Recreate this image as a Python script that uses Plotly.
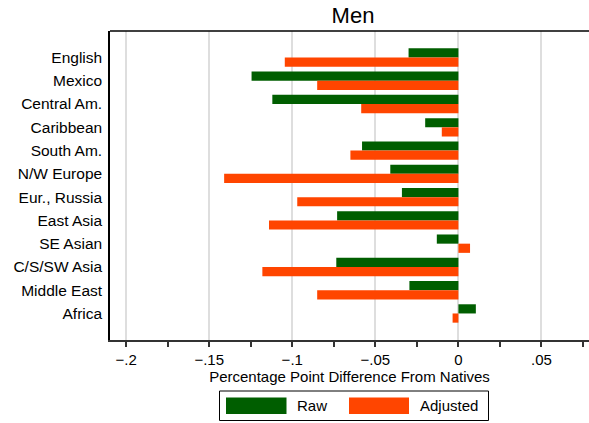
import plotly.graph_objects as go

# ---- data ----
categories = ["English", "Mexico", "Central Am.", "Caribbean", "South Am.",
              "N/W Europe", "Eur., Russia", "East Asia", "SE Asian",
              "C/S/SW Asia", "Middle East", "Africa"]
raw = [-0.030, -0.1245, -0.112, -0.020, -0.058, -0.041, -0.034, -0.073,
       -0.013, -0.0735, -0.0295, 0.0105]
adjusted = [-0.1045, -0.085, -0.0585, -0.010, -0.065, -0.141, -0.097,
            -0.114, 0.007, -0.118, -0.085, -0.0035]
series_names = ["Raw", "Adjusted"]
tick_values = [-0.2, -0.15, -0.1, -0.05, 0, 0.05]
tick_labels = ["\u2212.2", "\u2212.15", "\u2212.1", "\u2212.05", "0", ".05"]

# ---- styling ----
W, H = 589, 423
ML, MT, MR, MB = 110, 31, 0, 83
PW, PH = W - ML - MR, H - MT - MB
GREEN = "rgb(0,94,0)"
ORANGE = "rgb(255,69,0)"
FONT = "Liberation Sans, Arial, sans-serif"
colors = [GREEN, ORANGE]


def px(x):
    return (x - ML) / PW


def py(y):
    return (H - MB - y) / PH


fig = go.Figure()
for name, vals, col in zip(series_names, [raw, adjusted], colors):
    fig.add_trace(go.Bar(
        y=categories, x=vals, name=name, orientation="h",
        marker=dict(color=col, line=dict(width=0)),
        showlegend=False,
    ))

shapes = [
    # top frame line
    dict(type="line", xref="paper", yref="paper", x0=0, x1=1, y0=1, y1=1,
         line=dict(color="black", width=1.5)),
    # legend box
    dict(type="rect", xref="paper", yref="paper",
         x0=px(219.5), x1=px(488.5), y0=py(391), y1=py(420.5),
         line=dict(color="black", width=1), fillcolor="white"),
    dict(type="rect", xref="paper", yref="paper",
         x0=px(226), x1=px(286.5), y0=py(397.5), y1=py(414),
         line=dict(width=0), fillcolor=GREEN),
    dict(type="rect", xref="paper", yref="paper",
         x0=px(349), x1=px(409), y0=py(397.5), y1=py(414),
         line=dict(width=0), fillcolor=ORANGE),
]
annotations = [
    dict(text=series_names[0], xref="paper", yref="paper", x=px(295), y=py(405.5),
         xanchor="left", yanchor="middle", showarrow=False,
         font=dict(size=15, color="black", family=FONT)),
    dict(text=series_names[1], xref="paper", yref="paper", x=px(417.5), y=py(405.5),
         xanchor="left", yanchor="middle", showarrow=False,
         font=dict(size=15, color="black", family=FONT)),
]

fig.update_layout(
    width=W, height=H,
    margin=dict(l=ML, r=MR, t=MT, b=MB, pad=0),
    paper_bgcolor="white", plot_bgcolor="white",
    font=dict(family=FONT, size=15, color="black"),
    barmode="group", bargap=0.21, bargroupgap=0,
    title=dict(text="Men", x=px(353), xref="paper", xanchor="center",
               y=1 - 15 / H, yref="container", yanchor="middle",
               font=dict(size=22, color="black", family=FONT)),
    shapes=shapes, annotations=annotations,
    showlegend=False,
)
fig.update_xaxes(
    range=[-0.2097, 0.0786],
    tickmode="array", tickvals=tick_values, ticktext=tick_labels,
    ticks="outside", ticklen=5, tickwidth=1.5, tickcolor="#333",
    minor=dict(dtick=0.025, tick0=0, ticks="outside", ticklen=5,
               tickwidth=1.5, tickcolor="#333", showgrid=False),
    showgrid=True, gridcolor="#dedede", gridwidth=1.5,
    zeroline=False,
    showline=True, linecolor="#333", linewidth=1.5,
    tickfont=dict(size=15, color="black"),
    title=dict(text="Percentage Point Difference From Natives",
               font=dict(size=15, color="black"), standoff=3),
)
fig.update_yaxes(
    type="category", categoryorder="array", categoryarray=categories,
    range=[11 + 1.14, -1.14],
    showgrid=False, zeroline=False,
    showline=True, linecolor="black", linewidth=1.5,
    ticks="", ticklabelstandoff=3,
    tickfont=dict(size=15.5, color="black"),
)

fig.write_html("out.html")
